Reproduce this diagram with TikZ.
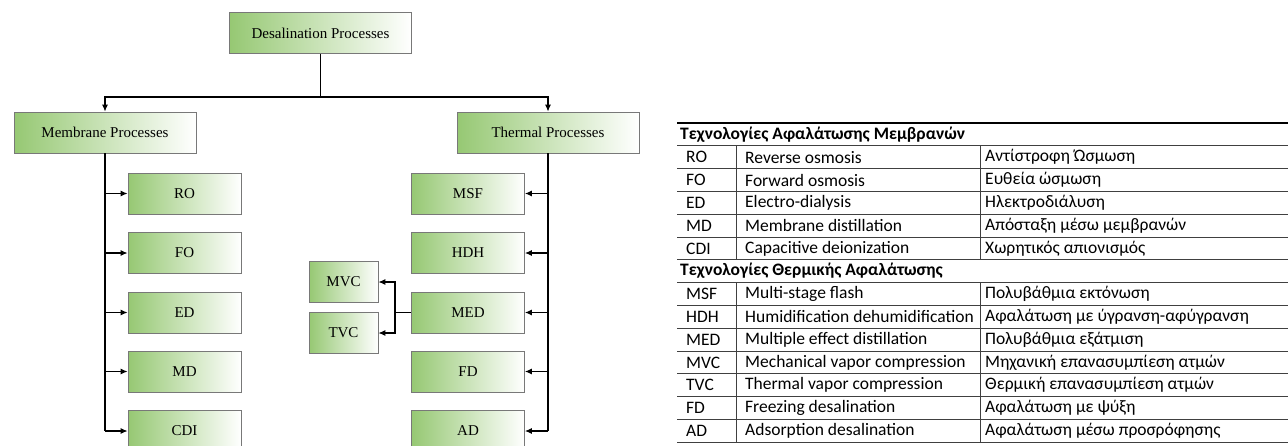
\documentclass[tikz,border=0pt]{standalone}
\usepackage{fontspec}
\setmainfont{Liberation Serif}
\newfontfamily\tabfont{Carlito}
\usetikzlibrary{arrows.meta}
\definecolor{boxgreen}{RGB}{150,200,115}
\definecolor{boxline}{RGB}{120,120,120}

\begin{document}
\begin{tikzpicture}[x=1pt, y=-1pt,
    proc/.style={draw=boxline, line width=0.8pt, left color=boxgreen, right color=white,
        minimum height=41pt, inner sep=0pt, font=\fontsize{15}{18}\selectfont},
    bigproc/.style={proc, minimum width=182pt},
    subproc/.style={proc, minimum width=113pt},
    vcproc/.style={proc, minimum width=69pt},
    link/.style={line width=1.1pt},
    arr/.style={link, -{Latex[length=7pt, width=6pt]}},
    cell/.style={anchor=west, inner sep=0pt, font=\tabfont\fontsize{17.5}{20}\selectfont},
    rule/.style={draw=black!75, line width=0.8pt}]
    \useasboundingbox (0,0) rectangle (1288,445);

    \node[bigproc] (desal) at (320.5,33) {Desalination Processes};
    \node[bigproc] (mem) at (105,132.5) {Membrane Processes};
    \node[bigproc] (therm) at (548,132.5) {Thermal Processes};
    \foreach \nm/\yy in {RO/193.5, FO/253, ED/312.5, MD/371.5, CDI/431}
        \node[subproc] (\nm) at (184.5,\yy) {\nm};
    \foreach \nm/\yy in {MSF/193.5, HDH/253, MED/312.5, FD/371.5, AD/431}
        \node[subproc] (\nm) at (468,\yy) {\nm};
    \node[vcproc] (MVC) at (343.5,282) {MVC};
    \node[vcproc] (TVC) at (343.5,333) {TVC};

    \coordinate (split) at (desal.south |- 0,97);
    \draw[link] (desal.south) -- (split);
    \draw[arr] (split) -| (mem.north);
    \draw[arr] (split) -| (therm.north);
    \draw[link] (mem.south) -- (mem.south |- CDI.west);
    \draw[link] (therm.south) -- (therm.south |- AD.east);
    \foreach \nm in {RO, FO, ED, MD, CDI}
        \draw[arr] (mem.south |- \nm.west) -- (\nm.west);
    \foreach \nm in {MSF, HDH, MED, FD, AD}
        \draw[arr] (therm.south |- \nm.east) -- (\nm.east);
    \coordinate (vcjoin) at (395,312.5);
    \draw[link] (MED.west) -- (vcjoin);
    \draw[arr] (vcjoin) |- (MVC.east);
    \draw[arr] (vcjoin) |- (TVC.east);

    \draw[rule, draw=black, line width=1.2pt] (677,123) -- (1288,123);
    \foreach \k in {1,...,14}
        \draw[rule] (677,{123+22.8*\k}) -- (1288,{123+22.8*\k});
    \foreach \xx in {736,980} {
        \draw[rule] (\xx,145.8) -- (\xx,259.8);
        \draw[rule] (\xx,282.6) -- (\xx,442.2);
    }

    \node[cell, font=\tabfont\bfseries\fontsize{17.5}{20}\selectfont] (head1) at (680,134.4) {Τεχνολογίες Αφαλάτωσης Μεμβρανών};
    \node[cell, font=\tabfont\bfseries\fontsize{17.5}{20}\selectfont] (head2) at (680,271.2) {Τεχνολογίες Θερμικής Αφαλάτωσης};
    \foreach \ab/\en/\gr [count=\i] in {RO/Reverse osmosis/Αντίστροφη Ώσμωση,
            FO/Forward osmosis/Ευθεία ώσμωση,
            ED/Electro-dialysis/Ηλεκτροδιάλυση,
            MD/Membrane distillation/Απόσταξη μέσω μεμβρανών,
            CDI/Capacitive deionization/Χωρητικός απιονισμός} {
        \node[cell] (m\i-ab) at (686,{134.4+22.8*\i}) {\ab};
        \node[cell] (m\i-en) at (745,{134.4+22.8*\i}) {\en};
        \node[cell] (m\i-gr) at (985,{134.4+22.8*\i}) {\gr};
    }
    \foreach \ab/\en/\gr [count=\i from 7] in {MSF/Multi-stage flash/Πολυβάθμια εκτόνωση,
            HDH/Humidification dehumidification/Αφαλάτωση με ύγρανση-αφύγρανση,
            MED/Multiple effect distillation/Πολυβάθμια εξάτμιση,
            MVC/Mechanical vapor compression/Μηχανική επανασυμπίεση ατμών,
            TVC/Thermal vapor compression/Θερμική επανασυμπίεση ατμών,
            FD/Freezing desalination/Αφαλάτωση με ψύξη,
            AD/Adsorption desalination/Αφαλάτωση μέσω προσρόφησης} {
        \node[cell] (t\i-ab) at (686,{134.4+22.8*\i}) {\ab};
        \node[cell] (t\i-en) at (745,{134.4+22.8*\i}) {\en};
        \node[cell] (t\i-gr) at (985,{134.4+22.8*\i}) {\gr};
    }
\end{tikzpicture}
\end{document}
